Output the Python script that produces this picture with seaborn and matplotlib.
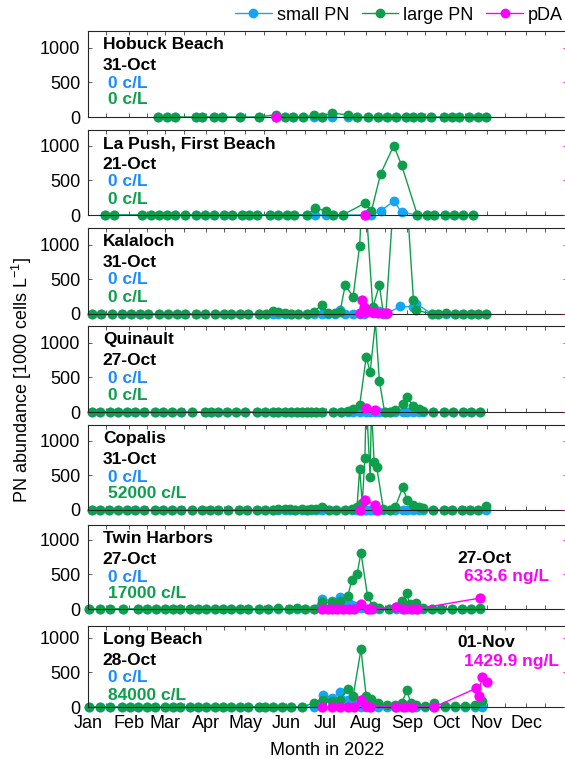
import numpy as np
import pandas as pd
import matplotlib
matplotlib.use("Agg")
import matplotlib.pyplot as plt
from matplotlib.lines import Line2D
import seaborn as sns

# ---- data: day-of-year 2022, PN in 1000 cells/L, pDA in ng/L ----
sites = ["Hobuck Beach", "La Push, First Beach", "Kalaloch", "Quinault",
         "Copalis", "Twin Harbors", "Long Beach"]
last_dates = ["31-Oct", "21-Oct", "31-Oct", "27-Oct", "31-Oct", "27-Oct", "28-Oct"]
small_txt = ["0 c/L", "0 c/L", "0 c/L", "0 c/L", "0 c/L", "0 c/L", "0 c/L"]
large_txt = ["0 c/L", "0 c/L", "0 c/L", "0 c/L", "52000 c/L", "17000 c/L", "84000 c/L"]
pda_date_txt = {5: "27-Oct", 6: "01-Nov"}
pda_val_txt = {5: "633.6 ng/L", 6: "1429.9 ng/L"}
month_labels = ["Jan", "Feb", "Mar", "Apr", "May", "Jun",
                "Jul", "Aug", "Sep", "Oct", "Nov", "Dec"]

hob_days = [53, 60, 66, 82, 87, 96, 102, 116, 130, 143, 150, 156, 164, 172, 178, 186,
            198, 205, 213, 221, 228, 235, 242, 248, 254, 261, 271, 277, 283, 290, 297, 303]
hob_large = [0, 0, 0, 0, 0, 0, 0, 0, 0, 33, 0, 0, 0, 25, 0, 57,
             30, 0, 0, 0, 0, 0, 0, 0, 0, 0, 0, 0, 0, 0, 0, 0]
hob_small = [0, 0, 0, 0, 0, 0, 0, 0, 0, 0, 0, 0, 0, 0, 0, 0,
             0, 0, 0, 0, 0, 0, 0, 0, 0, 0, 0, 0, 0, 0, 0, 0]
hob_pda_days = [143]
hob_pda = [0]

lap_days = [13, 20, 41, 48, 54, 60, 66, 74, 82, 89, 96, 104, 110, 117, 123, 129, 139, 145, 152,
            157, 167, 173, 181, 187, 194, 211, 216, 223, 233, 239, 251, 258, 264, 272, 279, 286, 293]
lap_large = [0, 0, 0, 0, 0, 0, 0, 0, 0, 0, 0, 0, 0, 0, 0, 0, 0, 0, 0,
             0, 0, 100, 60, 0, 0, 170, 60, 595, 1000, 715, 0, 0, 0, 0, 0, 0, 0]
lap_small = [0, 0, 0, 0, 0, 0, 0, 0, 0, 0, 0, 0, 0, 0, 0, 0, 0, 0, 0,
             0, 0, 0, 0, 0, 0, 0, 0, 60, 200, 40, 0, 0, 0, 0, 0, 0, 0]
lap_pda_days = [211]
lap_pda = [0]

kal_days = [3, 10, 18, 26, 33, 40, 46, 54, 61, 68, 74, 82, 89, 97, 104, 109, 116, 122, 130, 136,
            141, 145, 150, 155, 160, 167, 172, 178, 183, 188, 192, 196, 202, 207, 210, 217, 222, 225,
            227, 238, 248, 250, 262, 267, 273, 280, 286, 292, 297, 303]
kal_large = [0, 0, 0, 0, 0, 0, 0, 0, 0, 0, 0, 0, 0, 0, 0, 0, 0, 0, 0, 0,
             40, 30, 20, 0, 0, 0, 30, 130, 10, 20, 30, 415, 250, 985, 2100, 95, 415, 20,
             10, 3100, 200, 57, 0, 0, 20, 0, 0, 0, 0, 0]
kal_small = [0, 0, 0, 0, 0, 0, 0, 0, 0, 0, 0, 0, 0, 0, 0, 0, 0, 0, 0, 0,
             0, 0, 0, 0, 0, 0, 0, 0, 0, 0, 60, 0, 0, 0, 0, 20, 50, 0,
             0, 110, 100, 150, 0, 0, 0, 0, 0, 0, 0, 0]
kal_pda_days = [207, 209, 210, 212, 217, 221, 225, 228]
kal_pda = [40, 800, 380, 100, 100, 60, 40, 40]

qui_days = [3, 9, 17, 23, 30, 36, 43, 51, 57, 64, 71, 79, 89, 94, 99, 106, 113, 120, 129, 135,
            141, 145, 150, 155, 159, 163, 167, 170, 174, 178, 187, 193, 198, 202, 207, 212, 215,
            219, 222, 226, 230, 234, 240, 243, 248, 252, 255, 263, 271, 278, 286, 292, 299]
qui_large = [0, 0, 0, 0, 0, 0, 0, 0, 0, 0, 0, 0, 0, 0, 0, 0, 0, 0, 0, 0,
             0, 0, 0, 0, 0, 0, 0, 0, 0, 0, 0, 0, 20, 40, 95, 797, 572,
             1300, 453, 0, 0, 33, 120, 215, 80, 48, 10, 0, 0, 0, 0, 0, 0]
qui_small = [0, 0, 0, 0, 0, 0, 0, 0, 0, 0, 0, 0, 0, 0, 0, 0, 0, 0, 0, 0,
             0, 0, 0, 0, 0, 0, 0, 0, 0, 0, 0, 0, 0, 0, 0, 0, 0,
             0, 0, 0, 0, 0, 0, 0, 0, 0, 0, 0, 0, 0, 0, 0, 0]
qui_pda_days = [212, 219]
qui_pda = [250, 100]

cop_days = [3, 9, 16, 23, 30, 36, 43, 51, 57, 64, 71, 79, 87, 93, 99, 107, 115, 121, 129, 135,
            141, 145, 150, 154, 158, 163, 167, 170, 174, 178, 184, 189, 196, 201, 205, 207, 209,
            211, 212, 215, 216, 218, 220, 225, 230, 234, 240, 243, 248, 252, 255, 263, 271, 277,
            285, 291, 297, 303]
cop_large = [0, 0, 0, 0, 0, 0, 0, 0, 0, 0, 0, 0, 0, 0, 0, 0, 0, 0, 0, 0,
             0, 10, 10, 10, 0, 10, 0, 10, 20, 38, 0, 0, 0, 10, 48, 596, 95,
             754, 1600, 477, 1500, 692, 620, 20, 0, 38, 334, 143, 72, 38, 24, 0, 0, 0,
             0, 0, 0, 52]
cop_small = [0, 0, 0, 0, 0, 0, 0, 0, 0, 0, 0, 0, 0, 0, 0, 0, 0, 0, 0, 0,
             0, 0, 0, 0, 0, 0, 0, 0, 0, 0, 0, 0, 0, 0, 0, 0, 0,
             0, 0, 0, 0, 0, 0, 0, 0, 0, 0, 0, 0, 0, 0, 0, 0, 0,
             0, 0, 0, 0]
cop_pda_days = [207, 211, 219, 220]
cop_pda = [0, 600, 280, 0]

twh_days = [1, 9, 17, 27, 38, 45, 52, 59, 65, 70, 78, 84, 90, 97, 103, 109, 116, 122, 130, 137,
            145, 153, 159, 165, 172, 178, 186, 192, 198, 201, 205, 208, 213, 217, 222, 229, 235,
            239, 243, 245, 250, 255, 262, 269, 277, 285, 292, 299]
twh_large = [0, 0, 0, 0, 0, 0, 0, 0, 0, 0, 0, 0, 0, 0, 0, 0, 0, 0, 0, 0,
             20, 0, 10, 0, 0, 95, 95, 120, 190, 415, 500, 810, 190, 48, 10, 0, 33,
             120, 224, 72, 80, 14, 0, 0, 0, 0, 0, 17]
twh_small = [0, 0, 0, 0, 0, 0, 0, 0, 0, 0, 0, 0, 0, 0, 0, 0, 0, 0, 0, 0,
             0, 0, 0, 0, 0, 143, 120, 167, 95, 60, 40, 20, 0, 0, 0, 0, 0,
             0, 0, 0, 0, 0, 0, 0, 0, 0, 0, 0]
twh_pda_days = [178, 183, 186, 190, 194, 199, 203, 208, 213, 216, 235, 241, 247, 251, 299]
twh_pda = [10, 0, 15, 15, 20, 20, 20, 290, 10, 0, 130, 15, 0, 15, 633.6]

lob_days = [1, 9, 17, 26, 32, 38, 45, 51, 59, 65, 70, 78, 84, 90, 97, 103, 109, 116, 122, 130,
            135, 141, 148, 155, 163, 172, 179, 186, 192, 198, 202, 208, 212, 216, 221, 228, 234,
            239, 243, 246, 250, 257, 264, 272, 280, 287, 295, 300]
lob_large = [0, 0, 0, 0, 0, 0, 0, 0, 0, 0, 0, 0, 0, 0, 0, 0, 0, 0, 0, 0,
             0, 0, 0, 0, 0, 57, 105, 80, 105, 258, 153, 830, 153, 115, 57, 30, 33,
             57, 238, 57, 33, 20, 57, 20, 20, 20, 33, 84]
lob_small = [0, 0, 0, 0, 0, 0, 0, 0, 0, 0, 0, 0, 0, 0, 0, 0, 0, 0, 0, 0,
             0, 0, 0, 0, 0, 0, 176, 130, 210, 105, 40, 0, 0, 0, 0, 0, 0,
             0, 0, 0, 0, 0, 0, 0, 0, 0, 0, 0]
lob_pda_days = [178, 186, 192, 198, 203, 208, 212, 215, 235, 241, 247, 264, 296, 298, 300, 304]
lob_pda = [10, 0, 20, 20, 20, 380, 30, 0, 20, 20, 0, 0, 1087, 610, 1756, 1429.9]

pn_days = [hob_days, lap_days, kal_days, qui_days, cop_days, twh_days, lob_days]
pn_small = [hob_small, lap_small, kal_small, qui_small, cop_small, twh_small, lob_small]
pn_large = [hob_large, lap_large, kal_large, qui_large, cop_large, twh_large, lob_large]
pda_days = [hob_pda_days, lap_pda_days, kal_pda_days, qui_pda_days, cop_pda_days, twh_pda_days, lob_pda_days]
pda_vals = [hob_pda, lap_pda, kal_pda, qui_pda, cop_pda, twh_pda, lob_pda]

C_SMALL = "#15A6F3"
C_LARGE = "#0E9F4C"
C_PDA = "#FF00FF"
T_BLUE = "#1A8CFF"
START = pd.Timestamp("2022-01-01")
END = pd.Timestamp("2023-01-01")

sns.set_style("ticks")
plt.rcParams["font.family"] = ["Liberation Sans", "DejaVu Sans"]
plt.rcParams["mathtext.fontset"] = "custom"
plt.rcParams["mathtext.rm"] = "Liberation Sans"
plt.rcParams["mathtext.default"] = "regular"
plt.rcParams["text.color"] = "black"
plt.rcParams["axes.labelcolor"] = "black"

W, H = 565, 759
panel_top = [31, 130, 228, 326, 425, 525, 626]
panel_bot = [117, 215, 314, 412, 510, 609, 707]
PX_PER_1000 = 69.4

month_starts = pd.date_range("2022-01-01", periods=12, freq="MS")
mid_months = month_starts + pd.Timedelta(days=14)


def draw_series(ax, days, vals, color, ymax, z, size=50):
    df = pd.DataFrame({"date": START + pd.to_timedelta(days, unit="D"), "val": vals})
    sns.lineplot(data=df, x="date", y="val", ax=ax, color=color, linewidth=1.0,
                 estimator=None, zorder=z)
    shown = df[df["val"] <= ymax]
    sns.scatterplot(data=shown, x="date", y="val", ax=ax, color=color, s=size,
                    linewidth=0, clip_on=False, zorder=z + 0.05, legend=False)


fig = plt.figure(figsize=(W / 100, H / 100), dpi=100)

for i in range(7):
    top, bot = panel_top[i], panel_bot[i]
    hpx = bot - top
    ax = fig.add_axes([88 / W, 1 - bot / H, (567 - 88) / W, hpx / H])
    ymax = hpx / PX_PER_1000 * 1000

    draw_series(ax, pn_days[i], pn_small[i], C_SMALL, ymax, 2.0)
    draw_series(ax, pn_days[i], pn_large[i], C_LARGE, ymax, 2.2)

    ax.set_ylim(0, ymax)
    ax.set_xlim(START, END)
    ax.set_yticks([0, 500, 1000])
    ax.set_xticks(month_starts)
    ax.set_xticklabels(month_labels)
    ax.set_xticks(mid_months, minor=True)
    ax.tick_params(axis="both", which="both", direction="in", length=3, width=0.6,
                   color="#404040", labelcolor="black", top=True, right=False, labelsize=13)
    ax.tick_params(axis="y", pad=5.5)
    ax.tick_params(axis="x", pad=6)
    if i < 6:
        ax.tick_params(axis="x", labelbottom=False)
    ax.set_xlabel("")
    ax.set_ylabel("")
    for sp in ax.spines.values():
        sp.set_color("#262626")
        sp.set_linewidth(0.8)

    ax2 = ax.twinx()
    draw_series(ax2, pda_days[i], pda_vals[i], C_PDA, 4 * ymax, 3.0, size=55)
    ax2.set_ylim(0, 4 * ymax)
    ax2.set_xlim(START, END)
    ax2.set_yticks([0, 2000, 4000])
    ax2.set_yticklabels([])
    ax2.tick_params(axis="y", direction="in", length=3, width=0.6, colors=C_PDA)
    ax2.set_ylabel("")
    for sp in ax2.spines.values():
        sp.set_visible(False)

    def fy(px):
        return 1 - px / hpx

    ax.text(0.031, fy(18), sites[i], transform=ax.transAxes, fontsize=12.5,
            fontweight="bold", va="baseline", zorder=5)
    ax.text(0.031, fy(39), last_dates[i], transform=ax.transAxes, fontsize=12.5,
            fontweight="bold", va="baseline", zorder=5)
    ax.text(0.042, fy(56.5), small_txt[i], transform=ax.transAxes, fontsize=12.5,
            fontweight="bold", color=T_BLUE, va="baseline", zorder=5)
    ax.text(0.042, fy(73.5), large_txt[i], transform=ax.transAxes, fontsize=12.5,
            fontweight="bold", color=C_LARGE, va="baseline", zorder=5)
    if i in pda_date_txt:
        yd, yv = (38, 56) if i == 5 else (21, 40)
        ax.text(0.771, fy(yd), pda_date_txt[i], transform=ax.transAxes, fontsize=12.5,
                fontweight="bold", va="baseline", zorder=5)
        ax.text(0.784, fy(yv), pda_val_txt[i], transform=ax.transAxes, fontsize=12.5,
                fontweight="bold", color=C_PDA, va="baseline", zorder=5)

handles = [Line2D([], [], color=c, marker="o", markersize=6, lw=1)
           for c in (C_SMALL, C_LARGE, C_PDA)]
fig.legend(handles, ["small PN", "large PN", "pDA"], loc="center right",
           bbox_to_anchor=(563 / W, 1 - 15 / H), ncol=3, frameon=False, fontsize=13,
           handlelength=2.0, handletextpad=0.3, columnspacing=0.7,
           borderaxespad=0, borderpad=0)

fig.text(22 / W, 1 - 380 / H, "PN abundance [1000 cells L$^{-1}$]", rotation=90,
         ha="center", va="center", fontsize=13)
fig.text(327 / W, 1 - 755 / H, "Month in 2022", ha="center", va="baseline", fontsize=13)

fig.savefig("out.png", dpi=100)
plt.close(fig)
